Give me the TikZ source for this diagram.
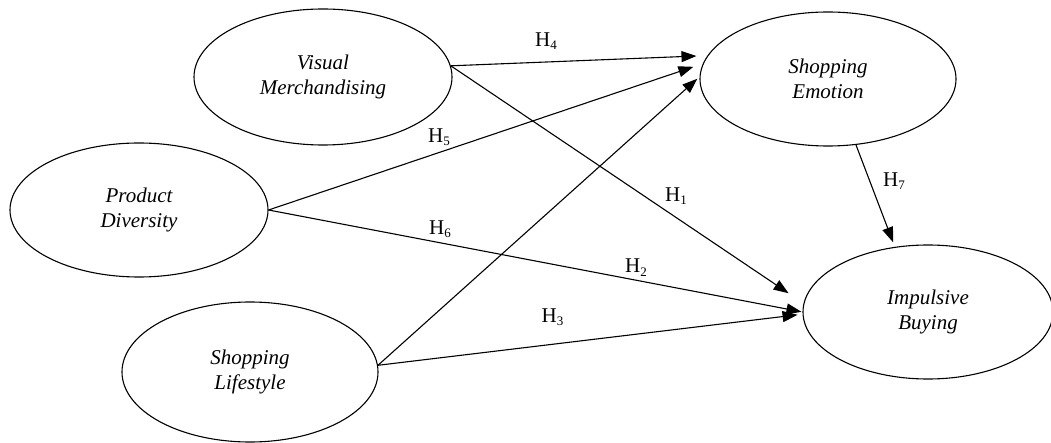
\documentclass[tikz,border=0pt]{standalone}
\usepackage{fontspec}
\setmainfont{Liberation Serif}
\usetikzlibrary{arrows.meta,shapes.geometric}
\tikzset{
  construct/.style={draw, ellipse, line width=1.1pt, inner sep=0pt, align=center,
    font=\fontsize{21}{25}\selectfont\itshape},
  hyppath/.style={draw, line width=1.1pt, -{Triangle[length=15pt,width=11pt]}},
  hyp/.style={anchor=base west, inner sep=0pt, font=\fontsize{21}{25}\selectfont},
}
\newcommand{\hsub}[1]{H\raisebox{-3pt}{\fontsize{13}{13}\selectfont #1}}
\begin{document}
\begin{tikzpicture}[x=1pt, y=-1pt]
  \useasboundingbox (0,0) rectangle (1051,443);

  % latent constructs
  \node[construct, minimum width=258pt, minimum height=136pt] (vm) at (323,77) {Visual\\Merchandising};
  \node[construct, minimum width=258pt, minimum height=134pt] (pd) at (139,210) {Product\\Diversity};
  \node[construct, minimum width=256pt, minimum height=140pt] (sl) at (250,372) {Shopping\\Lifestyle};
  \node[construct, minimum width=256pt, minimum height=134pt] (se) at (828,79) {Shopping\\Emotion};
  \node[construct, minimum width=250pt, minimum height=134pt] (ib) at (928,312) {Impulsive\\Buying};

  % hypothesised paths
  \draw[hyppath, shorten >=11pt] (vm.5) -- (se.169);
  \draw[hyppath, shorten >=10pt] (pd.east) -- (se.173);
  \draw[hyppath, shorten >=3pt] (sl.3) -- (se.179);
  \draw[hyppath, shorten >=18pt] (vm.5) -- (ib.176);
  \draw[hyppath, shorten >=1pt] (pd.east) -- (ib.west);
  \draw[hyppath, shorten >=5pt] (sl.3) -- (ib.181);
  \draw[hyppath, shorten >=5pt] (se.293) -- (ib.117);

  % hypothesis labels
  \node[hyp] (h4) at (535,46.5) {\hsub{4}};
  \node[hyp] (h5) at (428,142.5) {\hsub{5}};
  \node[hyp] (h1) at (665,201.5) {\hsub{1}};
  \node[hyp] (h6) at (429,235) {\hsub{6}};
  \node[hyp] (h2) at (625,273) {\hsub{2}};
  \node[hyp] (h3) at (541.5,322) {\hsub{3}};
  \node[hyp] (h7) at (883,186.5) {\hsub{7}};
\end{tikzpicture}
\end{document}
